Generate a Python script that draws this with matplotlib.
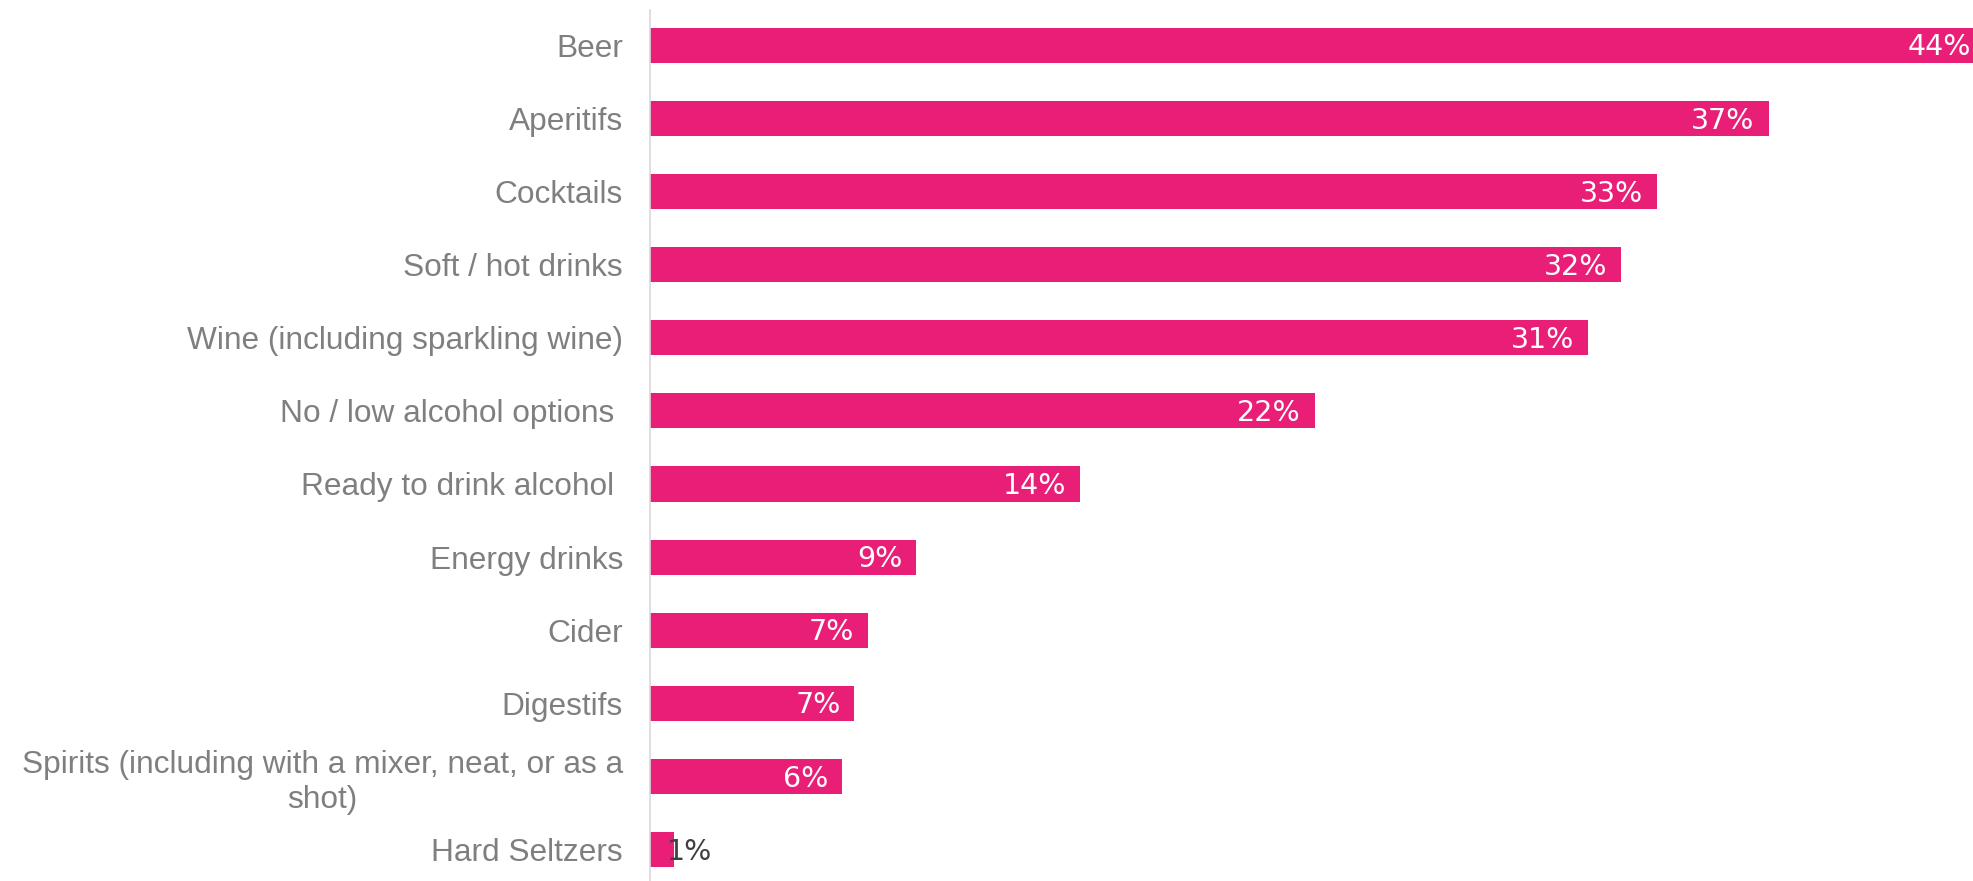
import matplotlib
matplotlib.use("Agg")
import matplotlib.pyplot as plt

categories = [
    "Beer",
    "Aperitifs",
    "Cocktails",
    "Soft / hot drinks",
    "Wine (including sparkling wine)",
    "No / low alcohol options ",
    "Ready to drink alcohol ",
    "Energy drinks",
    "Cider",
    "Digestifs",
    "Spirits (including with a mixer, neat, or as a\nshot)",
    "Hard Seltzers",
]
values = [44.4, 37.2, 33.49, 32.3, 31.2, 22.1, 14.3, 8.85, 7.25, 6.8, 6.4, 0.8]

BAR_COLOR = "#E91E76"
LABEL_GRAY = "#7F7F7F"
AXIS_GRAY = "#D9D9D9"

W, H, DPI = 1973, 881, 100
fig = plt.figure(figsize=(W / DPI, H / DPI), dpi=DPI)
ax = fig.add_axes([650 / W, 0, 1 - 650 / W, 1 - 10 / H])

y = list(range(len(categories)))
ax.barh(y, values, height=0.48, color=BAR_COLOR)

ax.set_xlim(0, 44.0)
ax.set_ylim(11.43, -0.483)

ax.set_yticks(y)
ax.set_yticklabels(categories, fontfamily="Liberation Sans", fontsize=22.8,
                   color=LABEL_GRAY)
for t in ax.get_yticklabels():
    t.set_multialignment("center")
ax.tick_params(axis="y", length=0, pad=19.5)
ax.set_xticks([])

for s in ("top", "right", "bottom"):
    ax.spines[s].set_visible(False)
ax.spines["left"].set_color(AXIS_GRAY)
ax.spines["left"].set_linewidth(1.2)

for yi, v in zip(y, values):
    txt = f"{v:.0f}%"
    if v >= 3:
        ax.annotate(txt, xy=(v, yi), xytext=(-10, -1.5), textcoords="offset points",
                    ha="right", va="center", color="white", fontsize=20.5,
                    fontfamily="DejaVu Sans", annotation_clip=False)
    else:
        ax.annotate(txt, xy=(v, yi), xytext=(-5, -1.5), textcoords="offset points",
                    ha="left", va="center", color="#404040", fontsize=20.5,
                    fontfamily="DejaVu Sans")

fig.savefig("out.png", dpi=DPI)
